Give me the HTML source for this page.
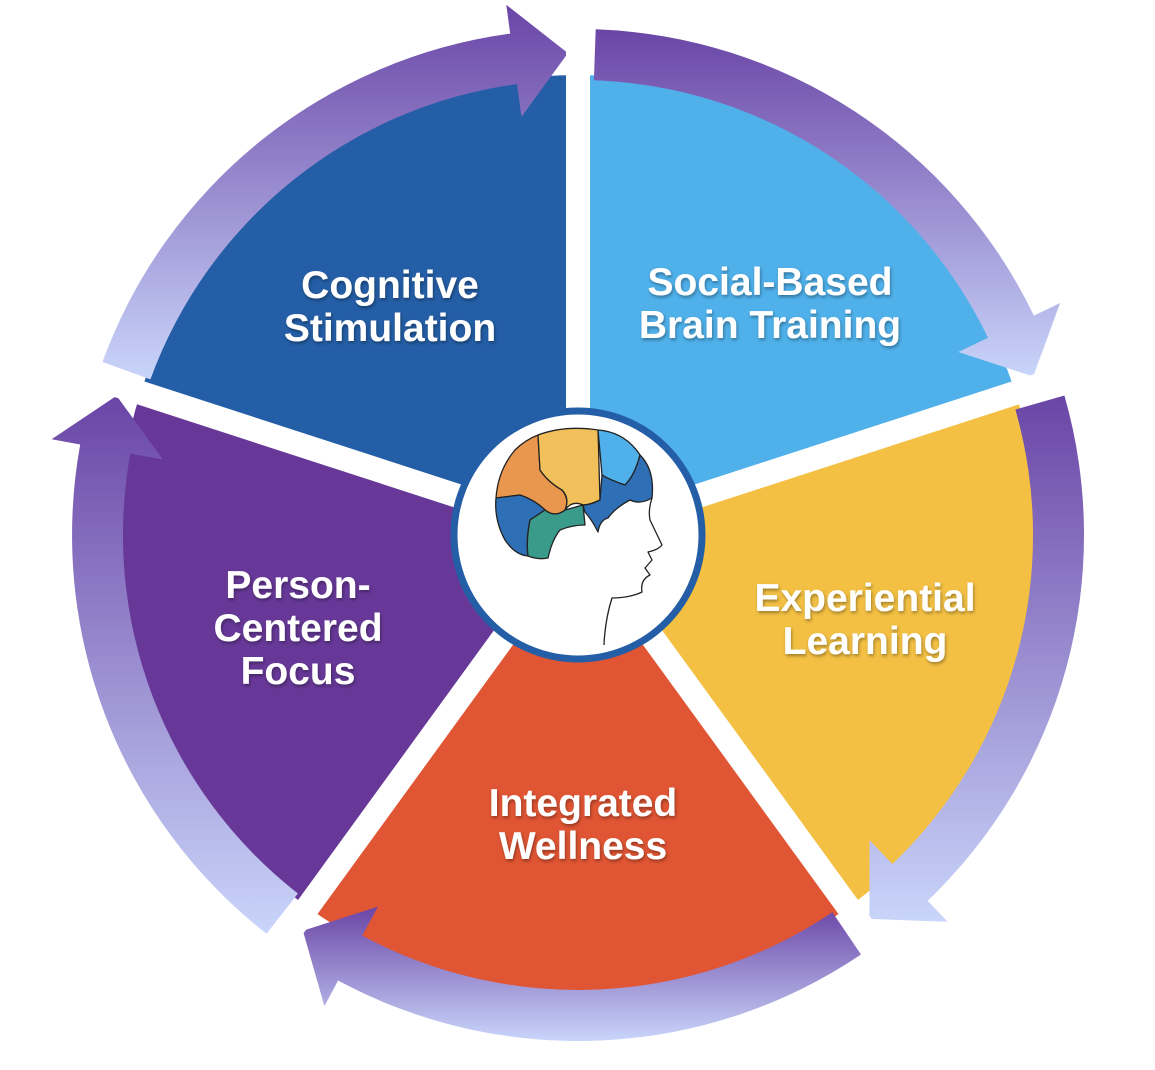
<!DOCTYPE html>
<html><head><meta charset="utf-8"><style>
html,body{margin:0;padding:0;background:#fff;}
svg{display:block}
text{font-family:"Liberation Sans",sans-serif;font-weight:bold;fill:#fff;text-anchor:middle;font-size:39px;}
</style></head><body>
<svg id="s" width="1155" height="1070" viewBox="0 0 1155 1070" xmlns="http://www.w3.org/2000/svg">
<defs>
<linearGradient id="g" x1="0" y1="0" x2="0" y2="1"><stop offset="0" stop-color="#6a45a6"/><stop offset="1" stop-color="#c9d5fa"/></linearGradient>
<filter id="sh"><feDropShadow dx="1" dy="2" stdDeviation="1.5" flood-color="#000" flood-opacity="0.35"/></filter>
</defs>
<g id="wedges"></g>
<g id="rings"></g>
<g id="gaps" stroke="#fff" stroke-width="24"></g>
<circle cx="578" cy="535" r="124" fill="#fff" stroke="#245ea6" stroke-width="7"/>
<g stroke="#222" stroke-width="1.3" stroke-linejoin="round">
<path d="M496 498 Q498 470 515 450 Q525 440 538 435 L540 470 Q548 482 562 490 Q570 500 565 510 Q555 518 545 510 Q535 500 520 495 Z" fill="#e9964e"/>
<path d="M538 435 Q565 425 598 430 L600 500 Q590 505 583 505 Q572 500 565 510 Q570 498 562 490 Q548 482 540 470 Z" fill="#f2c05a"/>
<path d="M598 430 Q625 432 640 455 Q635 475 625 485 Q610 480 602 475 Z" fill="#4fb0ea"/>
<path d="M640 455 Q655 470 652 498 Q640 505 630 500 Q615 508 608 518 Q600 520 598 532 Q592 520 585 512 L583 505 Q590 505 600 500 L602 475 Q610 480 625 485 Q635 475 640 455 Z" fill="#2e6fb5"/>
<path d="M496 498 L520 495 Q535 500 545 510 L530 520 Q526 540 528 556 Q515 555 505 540 Q494 520 496 498 Z" fill="#2e6fb5"/>
<path d="M545 510 Q555 518 565 510 L583 505 L585 525 Q572 525 560 530 Q552 540 548 558 Q538 560 528 556 Q526 540 530 520 Z" fill="#3a9b8a"/>
<path d="M652 498 Q648 510 650 520 L662 545 Q658 550 648 552 L652 560 L645 568 L650 575 Q640 580 642 592 Q630 598 612 598 Q605 620 604 645" fill="none"/>
</g>
<text filter="url(#sh)" x="390" y="298">Cognitive</text>
<text filter="url(#sh)" x="390" y="341">Stimulation</text>
<text filter="url(#sh)" x="770" y="295">Social-Based</text>
<text filter="url(#sh)" x="770" y="338">Brain Training</text>
<text filter="url(#sh)" x="865" y="611">Experiential</text>
<text filter="url(#sh)" x="865" y="654">Learning</text>
<text filter="url(#sh)" x="583" y="816">Integrated</text>
<text filter="url(#sh)" x="583" y="859">Wellness</text>
<text filter="url(#sh)" x="298" y="598">Person-</text>
<text filter="url(#sh)" x="298" y="641">Centered</text>
<text filter="url(#sh)" x="298" y="684">Focus</text>
</svg>
<script>
var cx=578,cy=535,NS="http://www.w3.org/2000/svg";
function P(r,a){a=a*Math.PI/180;return [(cx+r*Math.cos(a)).toFixed(1),(cy+r*Math.sin(a)).toFixed(1)];}
function el(t,at,p){var e=document.createElementNS(NS,t);for(var k in at)e.setAttribute(k,at[k]);document.getElementById(p).appendChild(e);}
var cols=["#245ea6","#4fb0ea","#f3c043","#e05533","#673898"];
var gaps=[-162,-90,-18,54,126,198];
for(var i=0;i<5;i++){
 var a0=gaps[i],a1=gaps[i+1],R=460,p0=P(R,a0),p1=P(R,a1);
 el("path",{d:"M"+cx+" "+cy+" L"+p0+" A"+R+" "+R+" 0 0 1 "+p1+" Z",fill:cols[i]},"wedges");
 var q=P(520,a0);el("line",{x1:cx,y1:cy,x2:q[0],y2:q[1]},"gaps");
 var s=a0+2,tip=a1-1.2,b=tip-6.5,r1=455,r2=506;
 var A=P(r2,s),B=P(r2,b),C=P(535,b),T=P(482,tip),D=P(422,b),E=P(r1,b),F=P(r1,s);
 el("path",{d:"M"+A+" A"+r2+" "+r2+" 0 0 1 "+B+" L"+C+" L"+T+" L"+D+" L"+E+" A"+r1+" "+r1+" 0 0 0 "+F+" Z",fill:"url(#g)"},"rings");
}
</script>
</body></html>
